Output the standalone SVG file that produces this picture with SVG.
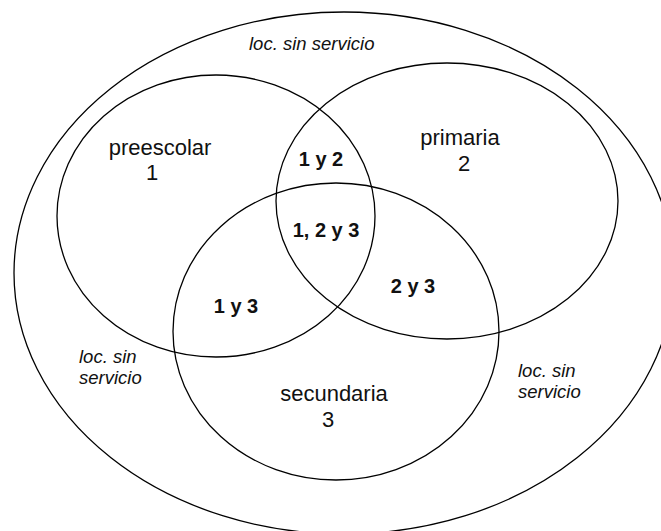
<svg xmlns="http://www.w3.org/2000/svg" width="661" height="531" viewBox="0 0 661 531">
<style>
.shape{fill:none;stroke:#000;stroke-width:1.3}
.lbl{font-family:"Liberation Sans",Arial,sans-serif;font-size:22px;fill:#111;text-anchor:middle}
.bold{font-family:"Liberation Sans",Arial,sans-serif;font-size:20px;font-weight:bold;fill:#111;text-anchor:middle}
.it{font-family:"Liberation Sans",Arial,sans-serif;font-size:18.5px;font-style:italic;fill:#111}
</style>
<rect width="661" height="531" fill="#fff"/>
<g id="universo">
<ellipse class="shape" cx="344" cy="273" rx="330" ry="261"/>
<text class="it" x="249" y="50">loc. sin servicio</text>
<text class="it" x="79" y="363">loc. sin</text>
<text class="it" x="79" y="384">servicio</text>
<text class="it" x="518" y="377">loc. sin</text>
<text class="it" x="518" y="398">servicio</text>
</g>
<g id="preescolar">
<ellipse class="shape" cx="216" cy="216" rx="159" ry="141"/>
<text class="lbl" x="160" y="155">preescolar</text>
<text class="lbl" x="152" y="180">1</text>
</g>
<g id="primaria">
<ellipse class="shape" cx="447" cy="201" rx="171" ry="138"/>
<text class="lbl" x="460" y="145">primaria</text>
<text class="lbl" x="464" y="171">2</text>
</g>
<g id="secundaria">
<ellipse class="shape" cx="336" cy="331.5" rx="163" ry="148.5"/>
<text class="lbl" x="334" y="401">secundaria</text>
<text class="lbl" x="328" y="427">3</text>
</g>
<g id="intersecciones">
<text class="bold" x="321" y="166">1 y 2</text>
<text class="bold" x="326" y="237">1, 2 y 3</text>
<text class="bold" x="236" y="313">1 y 3</text>
<text class="bold" x="413" y="293">2 y 3</text>
</g>
<g id="connectors"/>
</svg>
